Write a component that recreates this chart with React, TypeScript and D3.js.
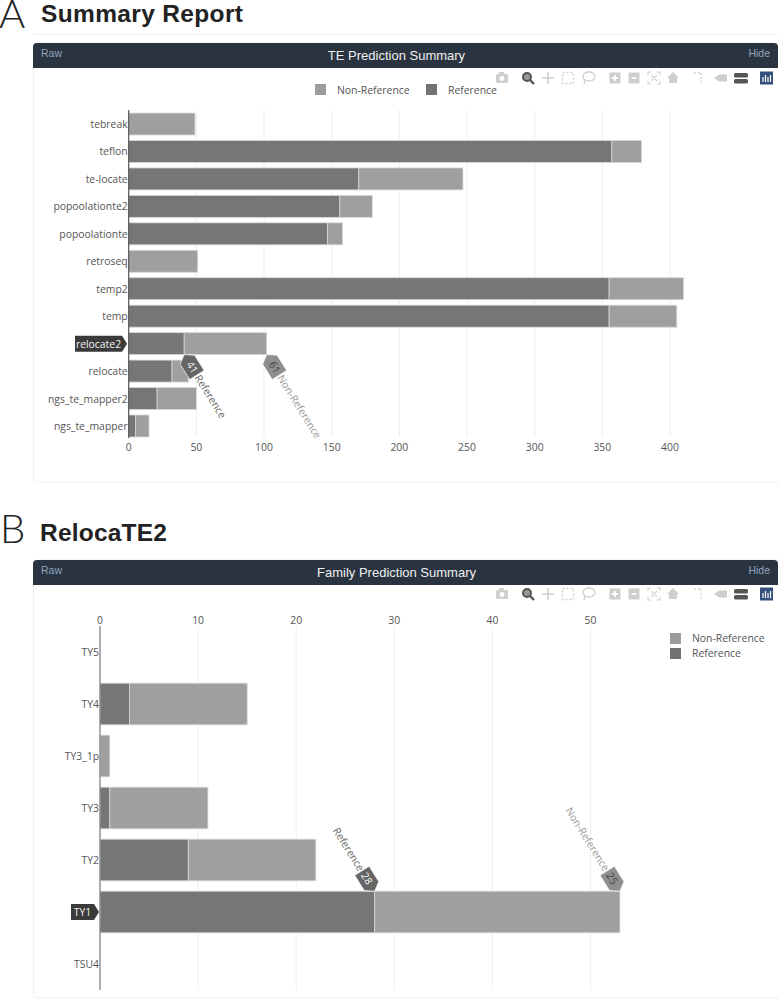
import React from "react";
import * as d3 from "d3";

// ---- data ----
const summaryCategories = ["tebreak","teflon","te-locate","popoolationte2","popoolationte","retroseq","temp2","temp","relocate2","relocate","ngs_te_mapper2","ngs_te_mapper"];
const summaryReference = [0,357,170,156,147,0,355,355,41,32,21,5];
const summaryNonReference = [49,22,77,24,11,51,55,50,61,12,29,10];
const summaryTicks = [0,50,100,150,200,250,300,350,400];

const familyCategories = ["TY5","TY4","TY3_1p","TY3","TY2","TY1","TSU4"];
const familyReference = [0,3,0,1,9,28,0];
const familyNonReference = [0,12,1,10,13,25,0];
const familyTicks = [0,10,20,30,40,50];

const legendLabels = ["Non-Reference","Reference"];

const REF = "#727272";
const NON = "#9c9c9c";
const SANS = "'Liberation Sans', Arial, sans-serif";
const PLOT = "'Open Sans', sans-serif";
const TICK = "#555555";
const ANGLE = 58;
const FS = 10.4;

function Toolbar({ y }: { y: number }) {
  const c = "#cfcfcf";
  return (
    <g transform={`translate(0,${y})`}>
      <g fill={c}>
        <rect x={496} y={-4} width={12} height={9} rx={1.5} />
        <rect x={499} y={-6} width={5} height={3} />
      </g>
      <circle cx={502} cy={0.5} r={2.4} fill="#fff" />
      <circle cx={527} cy={-1} r={4} fill="#999" stroke="#555" strokeWidth={2} />
      <line x1={530} y1={2} x2={534} y2={6} stroke="#555" strokeWidth={2.4} />
      <path d="M548 -6V6M542 0H554" stroke={c} strokeWidth={1.6} />
      <rect x={562.5} y={-5.5} width={11} height={11} fill="none" stroke={c} strokeWidth={1.4} strokeDasharray="2 2" />
      <ellipse cx={589} cy={-1.5} rx={6} ry={4.5} fill="none" stroke={c} strokeWidth={1.3} />
      <path d="M585 2L584 6" stroke={c} strokeWidth={1.3} />
      <rect x={609.5} y={-5.5} width={11} height={11} fill={c} />
      <path d="M615 -3V3M612 0H618" stroke="#fff" strokeWidth={1.8} />
      <rect x={628.5} y={-5.5} width={11} height={11} fill={c} />
      <path d="M631.5 0H636.5" stroke="#fff" strokeWidth={1.8} />
      <path d="M648 -3V-6H651M657 -6H660V-3M660 3V6H657M651 6H648V3M651 -3L657 3M657 -3L651 3" fill="none" stroke={c} strokeWidth={1.1} />
      <path d="M667 0L673 -6L679 0H677V5H669V0Z" fill={c} />
      <path d="M694 -5H696M698 -5H700M701 -5V-3M701 -1V5" stroke={c} strokeWidth={1.3} fill="none" strokeDasharray="2 1.5" />
      <path d="M714 0L719 -3.5H727V3.5H719Z" fill={c} />
      <rect x={734} y={-5} width={14} height={4.5} rx={1.5} fill="#555" />
      <rect x={734} y={1} width={14} height={4.5} rx={1.5} fill="#555" />
      <rect x={760} y={-6.5} width={13} height={13} fill="#34507d" />
      <path d="M763 4V-1M765.5 4V-3M768 4V-1M770.5 4V-3" stroke="#fff" strokeWidth={1.2} />
    </g>
  );
}

function Card({ top, bottom, title }: { top: number; bottom: number; title: string }) {
  const hdr = 25;
  return (
    <g fontFamily={SANS}>
      <rect x={33.5} y={top} width={750} height={bottom - top} rx={4} fill="#fff" stroke="#eeeeee" />
      <path d={`M33 ${top + hdr}V${top + 4}Q33 ${top} 37 ${top}H774Q778 ${top} 778 ${top + 4}V${top + hdr}Z`} fill="#2a3340" />
      <text x={41} y={top + 14} fontSize={10.5} fill="#8fa5bf">Raw</text>
      <text x={396.5} y={top + 16.5} fontSize={13} fill="#f0f0f0" textAnchor="middle">{title}</text>
      <text x={770} y={top + 14} fontSize={10.5} fill="#8fa5bf" textAnchor="end">Hide</text>
    </g>
  );
}

function Tag({ x, y, value, label, fill, tipBelow, labelFill, textFill }: any) {
  // Rotated pentagon tag with its tip on the data value; label continues along the same line
  const s = tipBelow ? -1 : 1;
  const tag = [[0, 0], [6 * s, -8.5], [24 * s, -8.5], [24 * s, 8.5], [6 * s, 8.5]];
  return (
    <g transform={`translate(${x},${y}) rotate(${ANGLE})`} fontFamily={PLOT}>
      <path d={`M${tag.map((p) => p.join(",")).join("L")}Z`} fill={fill} stroke="#fff" strokeWidth={0.6} />
      <text x={15 * s} y={3.6} fontSize={FS} fill={textFill} textAnchor="middle">{value}</text>
      <text x={25 * s} y={3.6} fontSize={FS} fill={labelFill} textAnchor={tipBelow ? "end" : "start"}>{label}</text>
    </g>
  );
}

function Bars({ cats, refV, nonV, x, y }: any) {
  const rows = cats.map((c: string, i: number) => ({ c, Reference: refV[i], NonReference: nonV[i] }));
  const layers = d3.stack<any>().keys(["Reference", "NonReference"])(rows);
  return (
    <g>
      {layers.map((layer: any) =>
        layer.map((d: any) =>
          d[1] > d[0] ? (
            <rect
              key={layer.key + d.data.c}
              x={x(d[0])}
              width={x(d[1]) - x(d[0])}
              y={y(d.data.c)}
              height={y.bandwidth()}
              fill={layer.key === "Reference" ? REF : NON}
              fillOpacity={0.97}
              stroke="#d6d6d6"
              strokeWidth={0.8}
            />
          ) : null
        )
      )}
    </g>
  );
}

function Grid({ ticks, x, y0, y1 }: any) {
  return (
    <g stroke="#eeeeee">
      {ticks.slice(1).map((t: number) => (
        <line key={t} x1={x(t)} x2={x(t)} y1={y0} y2={y1} />
      ))}
    </g>
  );
}

function CatLabels({ cats, y, x0, skip }: any) {
  return (
    <g fontFamily={PLOT} fontSize={FS} fill={TICK} textAnchor="end">
      {cats.filter((c: string) => c !== skip).map((c: string) => (
        <text key={c} x={x0 - 1} y={y(c)! + y.bandwidth() / 2 + 4}>{c}</text>
      ))}
    </g>
  );
}

function HoverCat({ label, xl, xr, cy }: any) {
  return (
    <g fontFamily={PLOT}>
      <path d={`M${xl} ${cy - 8}H${xr}L${xr + 5} ${cy}L${xr} ${cy + 8}H${xl}Z`} fill="#3a3a3a" />
      <text x={(xl + xr) / 2} y={cy + 4} fontSize={FS} fill="#f4f4f4" textAnchor="middle">{label}</text>
    </g>
  );
}

export default function App() {
  const xA = d3.scaleLinear().domain([0, 400]).range([128.7, 670]);
  const yA = d3.scaleBand<string>().domain(summaryCategories).range([110.3, 439.7]).paddingInner(0.2).paddingOuter(0.1);
  const xB = d3.scaleLinear().domain([0, 50]).range([100, 590.5]);
  const yB = d3.scaleBand<string>().domain(familyCategories).range([626, 990]).paddingInner(0.2).paddingOuter(0.1);

  const hiA = summaryCategories.indexOf("relocate2");
  const hiB = familyCategories.indexOf("TY1");
  const refA = summaryReference[hiA];
  const nonA = summaryNonReference[hiA];
  const refB = familyReference[hiB];
  const nonB = familyNonReference[hiB];
  const bottomA = yA("relocate2")! + yA.bandwidth();
  const topB = yB("TY1")!;

  return (
    <svg width={779} height={1000} style={{ position: "absolute", left: 0, top: 0, background: "#fff" }}>
      {/* Headings */}
      <text x={-1} y={28} fontFamily="Lato, sans-serif" fontWeight={300} fontSize={40} fill="#222">A</text>
      <text x={41} y={22.2} fontFamily={SANS} fontWeight={700} fontSize={24.5} letterSpacing={0.35} fill="#222">Summary Report</text>
      <line x1={33} x2={778} y1={34.5} y2={34.5} stroke="#eeeeee" />
      <text x={0} y={543} fontFamily="Lato, sans-serif" fontWeight={300} fontSize={40} fill="#222">B</text>
      <text x={40} y={541} fontFamily={SANS} fontWeight={700} fontSize={24.5} letterSpacing={0.2} fill="#222">RelocaTE2</text>

      {/* Panel A */}
      <Card top={43} bottom={482} title="TE Prediction Summary" />
      <Toolbar y={78} />
      <g fontFamily={PLOT} fontSize={FS} fill={TICK}>
        <rect x={315} y={84} width={11} height={11} fill={NON} />
        <text x={337} y={94}>{legendLabels[0]}</text>
        <rect x={426} y={84} width={11} height={11} fill={REF} />
        <text x={448} y={94}>{legendLabels[1]}</text>
      </g>
      <Grid ticks={summaryTicks} x={xA} y0={110} y1={437} />
      <Bars cats={summaryCategories} refV={summaryReference} nonV={summaryNonReference} x={xA} y={yA} />
      <line x1={xA(0)} x2={xA(0)} y1={110} y2={438} stroke="#555" strokeWidth={1.2} />
      <CatLabels cats={summaryCategories} y={yA} x0={xA(0)} skip="relocate2" />
      <g fontFamily={PLOT} fontSize={FS} fill={TICK} textAnchor="middle">
        {summaryTicks.map((t) => (
          <text key={t} x={xA(t)} y={451}>{t}</text>
        ))}
      </g>
      <HoverCat label="relocate2" xl={75} xr={122} cy={yA("relocate2")! + yA.bandwidth() / 2} />
      <Tag x={xA(refA)} y={bottomA} value={refA} label={legendLabels[1]} fill="#666" textFill="#f4f4f4" labelFill="#666" />
      <Tag x={xA(refA + nonA)} y={bottomA} value={nonA} label={legendLabels[0]} fill="#8f8f8f" textFill="#444" labelFill="#999" />

      {/* Panel B */}
      <Card top={560} bottom={998} title="Family Prediction Summary" />
      <Toolbar y={594} />
      <g fontFamily={PLOT} fontSize={FS} fill={TICK}>
        <rect x={670} y={633} width={11} height={11} fill={NON} />
        <text x={692} y={642}>{legendLabels[0]}</text>
        <rect x={670} y={648} width={11} height={11} fill={REF} />
        <text x={692} y={657}>{legendLabels[1]}</text>
      </g>
      <Grid ticks={familyTicks} x={xB} y0={626} y1={990} />
      <Bars cats={familyCategories} refV={familyReference} nonV={familyNonReference} x={xB} y={yB} />
      <line x1={xB(0)} x2={xB(0)} y1={626} y2={990} stroke="#8a8a8a" strokeWidth={1.4} />
      <CatLabels cats={familyCategories} y={yB} x0={xB(0)} skip="TY1" />
      <g fontFamily={PLOT} fontSize={FS} fill={TICK} textAnchor="middle">
        {familyTicks.map((t) => (
          <text key={t} x={xB(t)} y={624}>{t}</text>
        ))}
      </g>
      <HoverCat label="TY1" xl={71} xr={94} cy={yB("TY1")! + yB.bandwidth() / 2} />
      <Tag x={xB(refB)} y={topB} value={refB} label={legendLabels[1]} fill="#666" textFill="#f4f4f4" labelFill="#666" tipBelow />
      <Tag x={xB(refB + nonB)} y={topB} value={nonB} label={legendLabels[0]} fill="#8f8f8f" textFill="#444" labelFill="#999" tipBelow />
    </svg>
  );
}
